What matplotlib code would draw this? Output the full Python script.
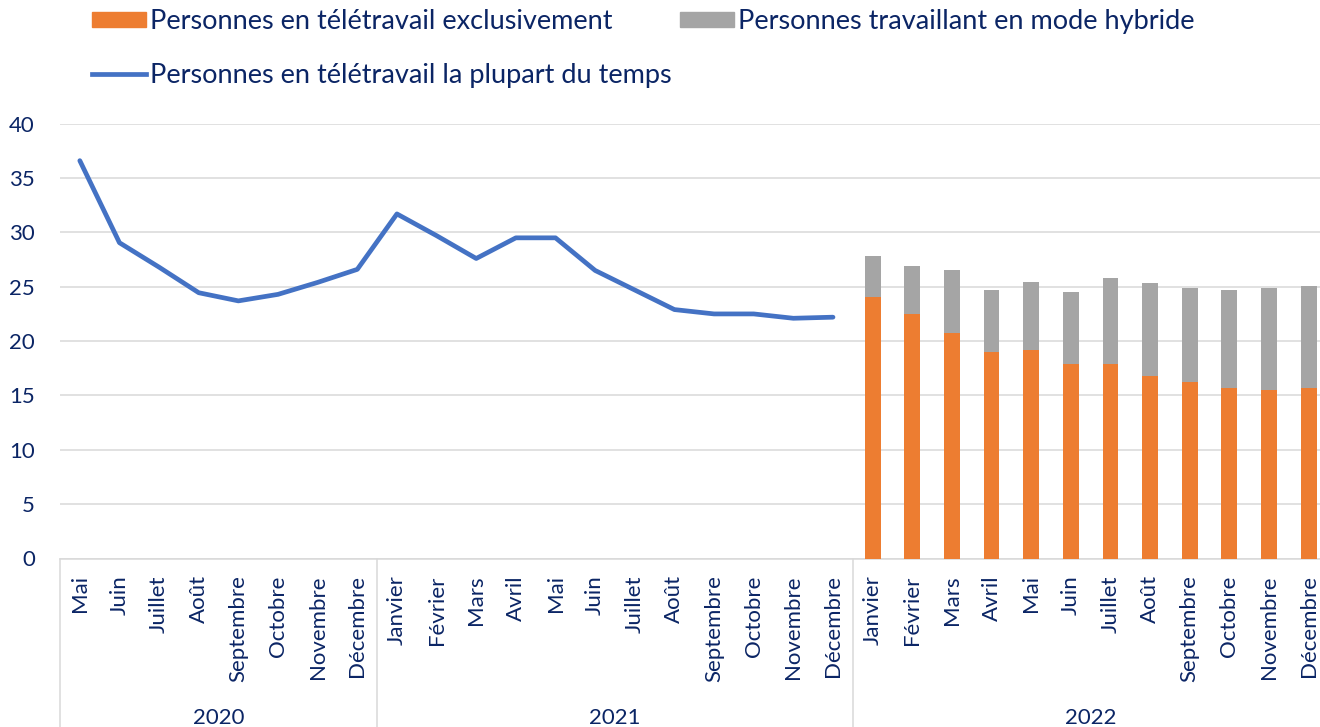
import numpy as np
import matplotlib
matplotlib.use("Agg")
import matplotlib.pyplot as plt
from matplotlib.lines import Line2D
from matplotlib.patches import Patch

plt.rcParams['font.family'] = ['Lato', 'DejaVu Sans']
TXT = '#0B2565'

mois_2020 = ['Mai', 'Juin', 'Juillet', 'Août', 'Septembre', 'Octobre', 'Novembre', 'Décembre']
mois_complets = ['Janvier', 'Février', 'Mars', 'Avril', 'Mai', 'Juin', 'Juillet', 'Août',
                 'Septembre', 'Octobre', 'Novembre', 'Décembre']
annees = ['2020', '2021', '2022']

# teletravail la plupart du temps (mai 2020 - dec 2021)
plupart = [36.6, 29.05, 26.8, 24.45, 23.7, 24.3, 25.4, 26.6,
           31.7, 29.7, 27.6, 29.5, 29.5, 26.5, 24.7, 22.9, 22.5, 22.5, 22.1, 22.2]
# 2022 : exclusif + hybride
exclusif = [24.1, 22.5, 20.7, 19.0, 19.2, 17.9, 17.9, 16.8, 16.2, 15.7, 15.5, 15.7]
hybride = [3.7, 4.4, 5.8, 5.7, 6.2, 6.6, 7.9, 8.5, 8.7, 9.0, 9.4, 9.4]

labels = mois_2020 + mois_complets + mois_complets
n = len(labels)
x = np.arange(n)
x_line = x[:len(plupart)]
x_bar = x[len(plupart):]

W, H = 1320, 727
fig = plt.figure(figsize=(W / 100, H / 100), dpi=100)
step = 39.64
left_px, zero_px, top_px = 60, 558.5, 123.7
ax = fig.add_axes([left_px / W, (H - zero_px) / H, (W - left_px) / W, (zero_px - top_px) / H])
ax.set_xlim(-0.5, -0.5 + (W - left_px) / step)
ax.set_ylim(0, 40)

ax.bar(x_bar, exclusif, width=0.4, color='#ED7D31', zorder=3)
ax.bar(x_bar, hybride, width=0.4, bottom=exclusif, color='#A5A5A5', zorder=3)
ax.plot(x_line, plupart, color='#4472C4', lw=3.4, solid_capstyle='round', zorder=4)

ax.set_yticks(range(0, 41, 5))
ax.yaxis.grid(True, color='#D9D9D9', lw=1.1)
ax.set_axisbelow(True)
for s in ['top', 'right', 'left']:
    ax.spines[s].set_visible(False)
ax.spines['bottom'].set_color('#D9D9D9')
ax.spines['bottom'].set_linewidth(1.1)
ax.tick_params(axis='y', length=0, pad=18, labelsize=16, labelcolor=TXT)
ax.set_xticks(x)
ax.set_xticklabels(labels, rotation=90, va='top', ha='center')
ax.tick_params(axis='x', length=0, pad=12, labelsize=16, labelcolor=TXT)

# separateurs d'annees et libelles
bornes = [0, 8, 20, 32]
for b in bornes[:-1]:
    ax.plot([b - 0.5, b - 0.5], [0, -15.5], color='#D9D9D9', lw=1.1, clip_on=False)
for i, a in enumerate(annees):
    mid = (bornes[i] + bornes[i + 1]) / 2 - 0.5
    ax.text(mid, -14.7, a, ha='center', va='center', fontsize=16, color=TXT)

# ordre colonne par colonne : orange, ligne | gris
handles = [Patch(color='#ED7D31'), Line2D([], [], color='#4472C4', lw=3.4),
           Patch(color='#A5A5A5')]
noms = ['Personnes en télétravail exclusivement',
        'Personnes en télétravail la plupart du temps',
        'Personnes travaillant en mode hybride']
fig.legend(handles, noms, loc='upper left', bbox_to_anchor=(92 / W, 1 - 9 / H), ncol=2,
           frameon=False, fontsize=19.5, labelcolor=TXT, handlelength=2.0, handleheight=0.5,
           handletextpad=0.15, columnspacing=0.3, labelspacing=1.06, borderpad=0,
           borderaxespad=0)

fig.savefig('out.png', dpi=100)
